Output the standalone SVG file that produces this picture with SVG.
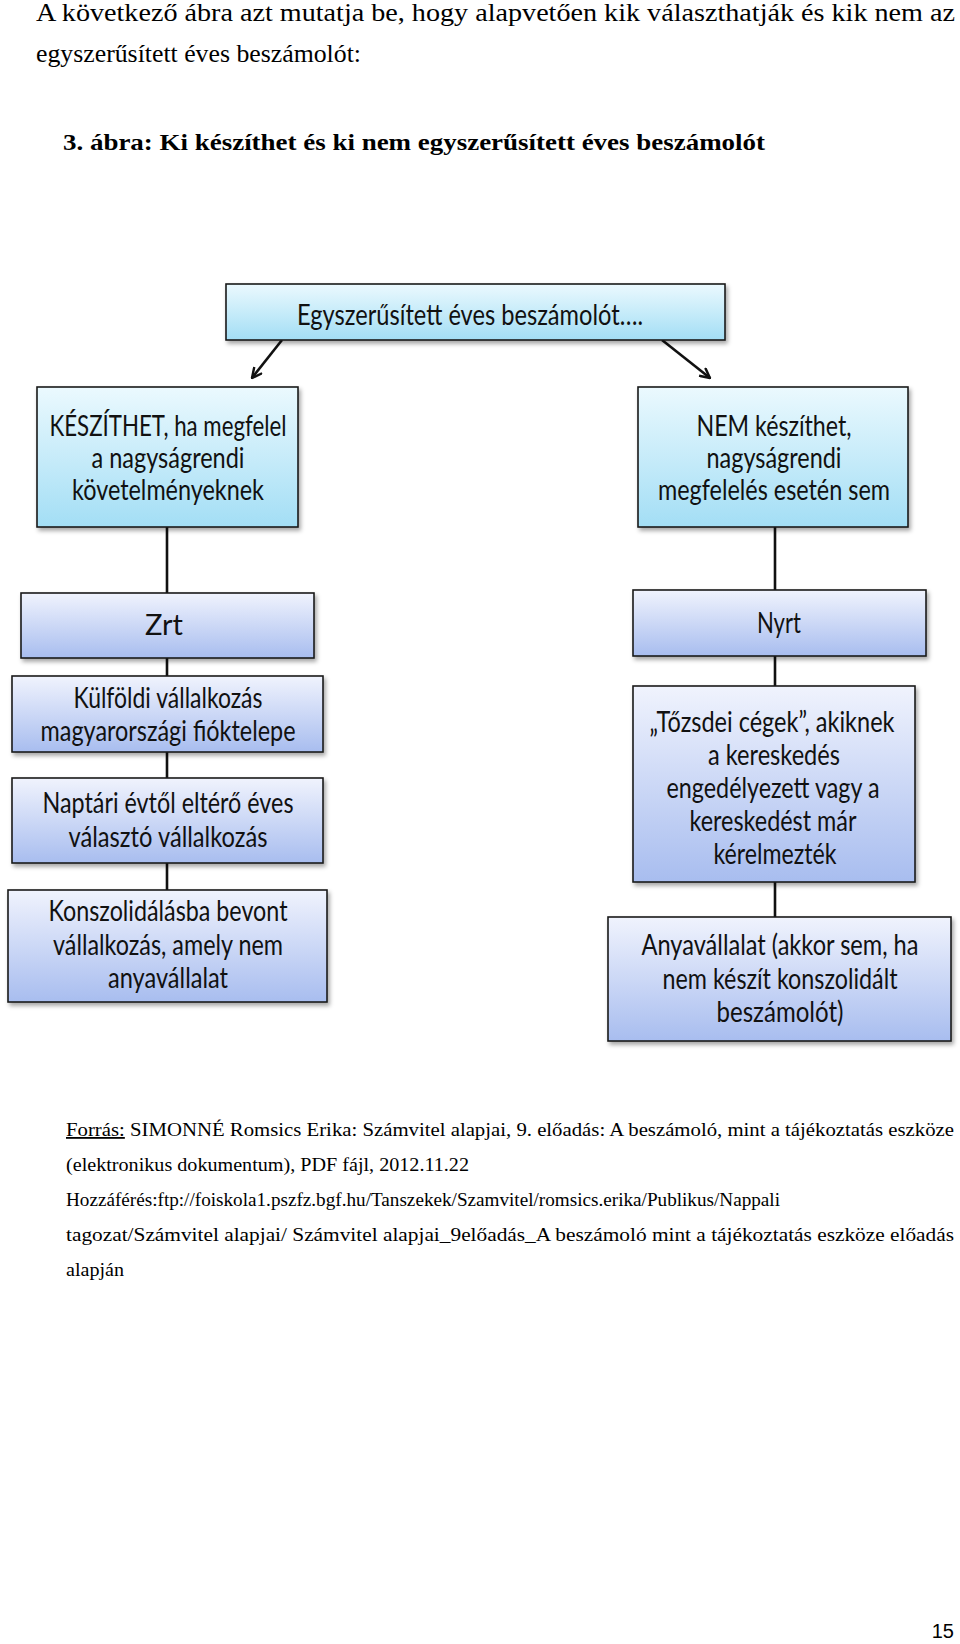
<svg xmlns="http://www.w3.org/2000/svg" width="960" height="1644" viewBox="0 0 960 1644">
<style>
.page{font-family:"Liberation Serif","Times New Roman",serif;fill:#000}
.hdr{font-size:25px}
.ttl{font-size:24px;font-weight:bold}
.src{font-size:18px}
.bx{stroke:#1a1a1a;stroke-width:1.6}
.cy{fill:url(#gCyan)}
.lv{fill:url(#gLav)}
.lbl{font-family:Lato,"Open Sans","Liberation Sans",sans-serif;font-size:28px;fill:#111;text-anchor:middle}
.con{stroke:#111;stroke-width:2.6;fill:none}
</style>
<defs>
<linearGradient id="gCyan" x1="0" y1="0" x2="0" y2="1">
<stop offset="0" stop-color="#ebf9fe"/>
<stop offset="1" stop-color="#a3def5"/>
</linearGradient>
<linearGradient id="gLav" x1="0" y1="0" x2="0" y2="1">
<stop offset="0" stop-color="#f0f3fd"/>
<stop offset="1" stop-color="#a8bdef"/>
</linearGradient>
<filter id="sh" x="-5%" y="-5%" width="115%" height="120%">
<feDropShadow dx="2" dy="3" stdDeviation="2" flood-color="#000" flood-opacity="0.35"/>
</filter>
<marker id="ah" viewBox="0 0 12 12" refX="11" refY="6" markerWidth="12" markerHeight="12" markerUnits="userSpaceOnUse" orient="auto">
<path d="M1,1 L11,6 L1,11" fill="none" stroke="#111" stroke-width="2.4"/>
</marker>
</defs>
<rect width="960" height="1644" fill="#fff"/>

<g id="intro" class="page">
<text class="hdr" x="36" y="21" textLength="919" lengthAdjust="spacingAndGlyphs">A következő ábra azt mutatja be, hogy alapvetően kik választhatják és kik nem az</text>
<text class="hdr" x="36" y="62" textLength="325" lengthAdjust="spacingAndGlyphs">egyszerűsített éves beszámolót:</text>
<text class="ttl" x="63" y="150" textLength="702" lengthAdjust="spacingAndGlyphs">3. ábra: Ki készíthet és ki nem egyszerűsített éves beszámolót</text>
</g>

<g id="connectors">
<line class="con" x1="282" y1="340" x2="252" y2="378" marker-end="url(#ah)"/>
<line class="con" x1="662" y1="340" x2="710" y2="378" marker-end="url(#ah)"/>
<line class="con" x1="167" y1="527" x2="167" y2="890"/>
<line class="con" x1="775" y1="527" x2="775" y2="917"/>
</g>

<g id="n-top">
<rect class="bx cy" x="226" y="284" width="499" height="56" filter="url(#sh)"/>
<text class="lbl" x="470" y="325" font-size="30" textLength="346" lengthAdjust="spacingAndGlyphs">Egyszerűsített éves beszámolót….</text>
</g>

<g id="n-keszithet">
<rect class="bx cy" x="37" y="387" width="261" height="140" filter="url(#sh)"/>
<text class="lbl" x="168" y="436" textLength="237" lengthAdjust="spacingAndGlyphs">KÉSZÍTHET, ha megfelel</text>
<text class="lbl" x="168" y="468" textLength="153" lengthAdjust="spacingAndGlyphs">a nagyságrendi</text>
<text class="lbl" x="168" y="500" textLength="192" lengthAdjust="spacingAndGlyphs">követelményeknek</text>
</g>

<g id="n-nem">
<rect class="bx cy" x="638" y="387" width="270" height="140" filter="url(#sh)"/>
<text class="lbl" x="774" y="436" textLength="155" lengthAdjust="spacingAndGlyphs">NEM készíthet,</text>
<text class="lbl" x="774" y="468" textLength="135" lengthAdjust="spacingAndGlyphs">nagyságrendi</text>
<text class="lbl" x="774" y="500" textLength="232" lengthAdjust="spacingAndGlyphs">megfelelés esetén sem</text>
</g>

<g id="n-zrt">
<rect class="bx lv" x="21" y="593" width="293" height="65" filter="url(#sh)"/>
<text class="lbl" x="164" y="635" textLength="38" lengthAdjust="spacingAndGlyphs">Zrt</text>
</g>

<g id="n-kulfoldi">
<rect class="bx lv" x="12" y="676" width="311" height="76" filter="url(#sh)"/>
<text class="lbl" x="168" y="708" textLength="189" lengthAdjust="spacingAndGlyphs">Külföldi vállalkozás</text>
<text class="lbl" x="168" y="741" textLength="255" lengthAdjust="spacingAndGlyphs">magyarországi fióktelepe</text>
</g>

<g id="n-naptari">
<rect class="bx lv" x="12" y="778" width="311" height="85" filter="url(#sh)"/>
<text class="lbl" x="168" y="813" textLength="251" lengthAdjust="spacingAndGlyphs">Naptári évtől eltérő éves</text>
<text class="lbl" x="168" y="847" textLength="199" lengthAdjust="spacingAndGlyphs">választó vállalkozás</text>
</g>

<g id="n-konszolid">
<rect class="bx lv" x="8" y="890" width="319" height="112" filter="url(#sh)"/>
<text class="lbl" x="168" y="921" textLength="239" lengthAdjust="spacingAndGlyphs">Konszolidálásba bevont</text>
<text class="lbl" x="168" y="955" textLength="230" lengthAdjust="spacingAndGlyphs">vállalkozás, amely nem</text>
<text class="lbl" x="168" y="988" textLength="120" lengthAdjust="spacingAndGlyphs">anyavállalat</text>
</g>

<g id="n-nyrt">
<rect class="bx lv" x="633" y="590" width="293" height="66" filter="url(#sh)"/>
<text class="lbl" x="779" y="633" textLength="44" lengthAdjust="spacingAndGlyphs">Nyrt</text>
</g>

<g id="n-tozsdei">
<rect class="bx lv" x="633" y="686" width="282" height="196" filter="url(#sh)"/>
<text class="lbl" x="772" y="732" textLength="245" lengthAdjust="spacingAndGlyphs">„Tőzsdei cégek”, akiknek</text>
<text class="lbl" x="774" y="765" textLength="132" lengthAdjust="spacingAndGlyphs">a kereskedés</text>
<text class="lbl" x="773" y="798" textLength="213" lengthAdjust="spacingAndGlyphs">engedélyezett vagy a</text>
<text class="lbl" x="773" y="831" textLength="167" lengthAdjust="spacingAndGlyphs">kereskedést már</text>
<text class="lbl" x="775" y="864" textLength="123" lengthAdjust="spacingAndGlyphs">kérelmezték</text>
</g>

<g id="n-anya">
<rect class="bx lv" x="608" y="917" width="343" height="124" filter="url(#sh)"/>
<text class="lbl" x="780" y="955" textLength="277" lengthAdjust="spacingAndGlyphs">Anyavállalat (akkor sem, ha</text>
<text class="lbl" x="780" y="989" textLength="235" lengthAdjust="spacingAndGlyphs">nem készít konszolidált</text>
<text class="lbl" x="780" y="1022" textLength="127" lengthAdjust="spacingAndGlyphs">beszámolót)</text>
</g>

<g id="source" class="page src">
<text x="66" y="1136" textLength="888" lengthAdjust="spacingAndGlyphs"><tspan text-decoration="underline">Forrás:</tspan> SIMONNÉ Romsics Erika: Számvitel alapjai, 9. előadás: A beszámoló, mint a tájékoztatás eszköze</text>
<text x="66" y="1171" textLength="403" lengthAdjust="spacingAndGlyphs">(elektronikus dokumentum), PDF fájl, 2012.11.22</text>
<text x="66" y="1206" textLength="714" lengthAdjust="spacingAndGlyphs">Hozzáférés:ftp://foiskola1.pszfz.bgf.hu/Tanszekek/Szamvitel/romsics.erika/Publikus/Nappali</text>
<text x="66" y="1241" textLength="888" lengthAdjust="spacingAndGlyphs">tagozat/Számvitel alapjai/ Számvitel alapjai_9előadás_A beszámoló mint a tájékoztatás eszköze előadás</text>
<text x="66" y="1276" textLength="58" lengthAdjust="spacingAndGlyphs">alapján</text>
</g>

<g id="pagenum">
<text x="954" y="1638" font-family="Liberation Sans,Arial,sans-serif" font-size="20" text-anchor="end" fill="#000">15</text>
</g>
</svg>
